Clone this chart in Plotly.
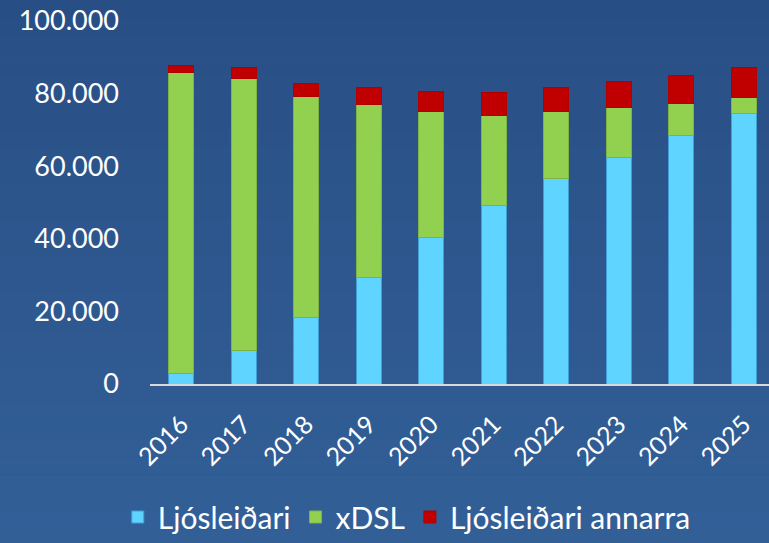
import plotly.graph_objects as go

years = ["2016", "2017", "2018", "2019", "2020", "2021", "2022", "2023", "2024", "2025"]
ljosleidari = [3000, 9100, 18300, 29300, 40300, 49300, 56500, 62500, 68500, 74500]
xdsl = [82800, 75100, 60800, 47700, 34800, 24800, 18700, 13600, 8900, 4400]
annarra = [1900, 2900, 3800, 4700, 5400, 6100, 6500, 7200, 7600, 8200]
y_ticks = [0, 20000, 40000, 60000, 80000, 100000]
y_tick_text = ["0", "20.000", "40.000", "60.000", "80.000", "100.000"]

FONT = "Lato"

fig = go.Figure()
fig.add_trace(go.Bar(x=years, y=ljosleidari, name="Ljósleiðari", marker_color="#5ed4ff",
                     marker_line=dict(color="#3f9fd6", width=1)))
fig.add_trace(go.Bar(x=years, y=xdsl, name="xDSL", marker_color="#92d050",
                     marker_line=dict(color="#7fb444", width=1)))
fig.add_trace(go.Bar(x=years, y=annarra, name="Ljósleiðari annarra", marker_color="#c00000",
                     marker_line=dict(color="#b00000", width=1)))

# vertical background gradient
top = (0x25, 0x4a, 0x80)
bot = (0x3a, 0x6b, 0xa4)
n = 60
shapes = []
for i in range(n):
    t = i / (n - 1)
    c = tuple(int(round(top[k] + (bot[k] - top[k]) * t)) for k in range(3))
    shapes.append(dict(type="rect", xref="paper", yref="paper", layer="below",
                       x0=-1, x1=2, y0=1.5 - (i + 1) * 3.0 / n, y1=1.5 - i * 3.0 / n,
                       fillcolor="rgb(%d,%d,%d)" % c, line=dict(width=0)))

fig.update_layout(
    width=769, height=543,
    barmode="stack", bargap=0.6,
    margin=dict(l=150, r=0, t=21, b=159),
    paper_bgcolor="#2d5a91", plot_bgcolor="rgba(0,0,0,0)",
    shapes=shapes,
    font=dict(family=FONT, color="white"),
    showlegend=True,
    legend=dict(orientation="h", x=0.529, xanchor="center", xref="container",
                y=0.0, yref="container", yanchor="bottom",
                font=dict(size=30, family=FONT, color="white"),
                traceorder="normal", itemwidth=30, bgcolor="rgba(0,0,0,0)"),
    xaxis=dict(range=[-0.5, 9.404], tickangle=-45, tickfont=dict(size=25, family=FONT, color="white"),
               showline=True, linecolor="#d9d9d9", linewidth=2, ticks="", showgrid=False,
               ticklabelstandoff=14),
    yaxis=dict(range=[0, 100000], tickvals=y_ticks, ticktext=y_tick_text,
               tickfont=dict(size=27, family=FONT, color="white"), showgrid=False,
               zeroline=False, showline=False, ticks="", ticklabelstandoff=30),
)

fig.write_html("out.html", config={"displayModeBar": False},
               post_script="document.body.style.margin='0';document.body.style.overflow='hidden';")
